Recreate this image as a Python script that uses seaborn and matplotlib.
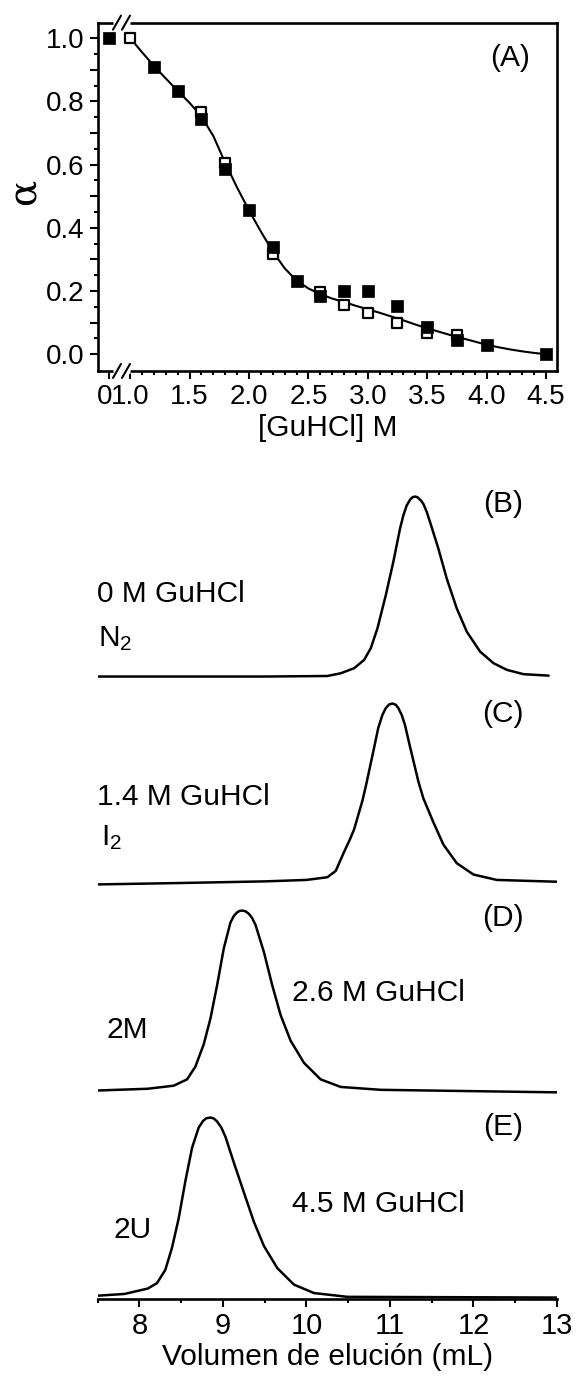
import numpy as np
import matplotlib
matplotlib.use("Agg")
import matplotlib.pyplot as plt
import matplotlib.transforms as mtransforms
import seaborn as sns

# ---------------- (A) unfolding curve ----------------
conc_filled = [0, 1.2, 1.4, 1.6, 1.8, 2.0, 2.2, 2.4, 2.6, 2.8, 3.0, 3.25, 3.5, 3.75, 4.0, 4.5]
alpha_filled = [1.0, 0.910, 0.833, 0.745, 0.585, 0.455, 0.338, 0.230, 0.185, 0.200, 0.200,
                0.153, 0.085, 0.046, 0.029, 0.0]
conc_open = [1.0, 1.6, 1.8, 2.2, 2.6, 2.8, 3.0, 3.25, 3.5, 3.75]
alpha_open = [1.0, 0.767, 0.606, 0.318, 0.198, 0.155, 0.130, 0.098, 0.066, 0.061]

fit_conc = [1.0, 1.1, 1.2, 1.3, 1.4, 1.5, 1.6, 1.7, 1.8, 1.9, 2.0, 2.1, 2.2, 2.3, 2.4, 2.5,
            2.6, 2.7, 2.8, 2.9, 3.0, 3.1, 3.2, 3.3, 3.4, 3.5, 3.6, 3.7, 3.8, 3.9, 4.0,
            4.1, 4.2, 4.3, 4.4, 4.5]
fit_alpha = [1.000, 0.955, 0.912, 0.872, 0.833, 0.795, 0.752, 0.690, 0.605, 0.527, 0.455,
             0.388, 0.325, 0.272, 0.233, 0.208, 0.190, 0.176, 0.165, 0.153, 0.142, 0.131,
             0.119, 0.107, 0.094, 0.082, 0.071, 0.060, 0.050, 0.040, 0.030, 0.022, 0.015,
             0.009, 0.004, 0.000]

x_major = [1.0, 1.5, 2.0, 2.5, 3.0, 3.5, 4.0, 4.5]
y_major = [0.0, 0.2, 0.4, 0.6, 0.8, 1.0]

# ---------------- (B)-(E) elution profiles ----------------
vol_B = [7.49, 8.5, 9.5, 10.25, 10.41, 10.57, 10.69, 10.77, 10.85, 10.95, 11.04, 11.12, 11.16,
         11.20, 11.24, 11.27, 11.30, 11.33, 11.37, 11.40, 11.44, 11.48, 11.58, 11.68, 11.80,
         11.92, 12.08, 12.24, 12.40, 12.60, 12.90]
sig_B = [0.0, 0.0, 0.0, 0.003, 0.018, 0.046, 0.092, 0.157, 0.268, 0.452, 0.637, 0.821, 0.895,
         0.950, 0.982, 0.996, 1.0, 0.996, 0.978, 0.959, 0.915, 0.858, 0.710, 0.544, 0.378,
         0.249, 0.138, 0.074, 0.037, 0.013, 0.005]

vol_C = [7.49, 8.5, 9.5, 10.0, 10.25, 10.35, 10.45, 10.52, 10.57, 10.62, 10.67, 10.72, 10.80,
         10.86, 10.91, 10.95, 10.99, 11.03, 11.07, 11.10, 11.14, 11.18, 11.24, 11.34, 11.40,
         11.52, 11.64, 11.80, 12.00, 12.28, 13.0]
sig_C = [-0.005, 0.003, 0.012, 0.020, 0.035, 0.070, 0.175, 0.245, 0.300, 0.380, 0.460, 0.560,
         0.733, 0.865, 0.937, 0.975, 0.995, 1.0, 0.993, 0.975, 0.937, 0.880, 0.760, 0.567,
         0.473, 0.340, 0.216, 0.113, 0.050, 0.020, 0.010]

vol_D = [7.49, 8.10, 8.41, 8.57, 8.67, 8.77, 8.85, 8.93, 9.01, 9.09, 9.13, 9.17, 9.20, 9.23,
         9.27, 9.31, 9.35, 9.39, 9.49, 9.59, 9.69, 9.81, 9.97, 10.17, 10.41, 10.89, 13.0]
sig_D = [0.0, 0.010, 0.027, 0.062, 0.133, 0.257, 0.400, 0.585, 0.790, 0.934, 0.970, 0.990,
         0.998, 1.0, 0.996, 0.982, 0.958, 0.920, 0.770, 0.585, 0.420, 0.277, 0.154, 0.062,
         0.020, 0.004, -0.010]

vol_E = [7.49, 7.82, 8.10, 8.21, 8.31, 8.39, 8.47, 8.55, 8.63, 8.71, 8.76, 8.80, 8.85, 8.89,
         8.93, 8.98, 9.03, 9.13, 9.25, 9.37, 9.49, 9.65, 9.85, 10.09, 10.49, 13.0]
sig_E = [0.010, 0.020, 0.050, 0.080, 0.154, 0.277, 0.440, 0.647, 0.832, 0.945, 0.980, 0.996,
         1.0, 0.995, 0.978, 0.945, 0.893, 0.750, 0.585, 0.421, 0.287, 0.164, 0.072, 0.025,
         0.004, 0.0]

vol_ticks = [8, 9, 10, 11, 12, 13]

# ---------------- style ----------------
sns.set_theme(style="white")
plt.rcParams["font.family"] = ["Liberation Sans", "DejaVu Sans"]
plt.rcParams["mathtext.default"] = "regular"
for key in ["text.color", "axes.labelcolor", "xtick.color", "ytick.color", "axes.edgecolor"]:
    plt.rcParams[key] = "black"

LABEL_FS = 21.5
TICK_FS = 20
SPINE_W = 1.9

fig = plt.figure(figsize=(5.76, 13.8), dpi=100)
fig.patch.set_facecolor("white")

axA = fig.add_axes([0.1696, 0.7312, 0.7974, 0.2524])
axB = fig.add_axes([0.1696, 0.0587, 0.7974, 0.5935])

# ---- panel A ----
ZERO_POS = 0.824  # where 0 M sits on the broken concentration axis
pos_filled = [ZERO_POS if c == 0 else c for c in conc_filled]

sns.lineplot(x=fit_conc, y=fit_alpha, ax=axA, color="black", linewidth=1.5,
             sort=False, estimator=None, zorder=2)
sns.scatterplot(x=conc_open, y=alpha_open, ax=axA, marker="s", s=52, color="white",
                edgecolor="black", linewidth=1.6, zorder=3)
sns.scatterplot(x=pos_filled, y=alpha_filled, ax=axA, marker="s", s=72, color="black",
                edgecolor="black", linewidth=0.5, zorder=4)

axA.set_xlim(0.726, 4.593)
axA.set_ylim(-0.053, 1.049)
for side in ["left", "right", "top", "bottom"]:
    axA.spines[side].set_visible(True)
    axA.spines[side].set_color("black")
    axA.spines[side].set_linewidth(SPINE_W)

axA.set_xticks([ZERO_POS] + x_major)
axA.set_xticklabels([""] + [f"{v:.1f}" for v in x_major])
axA.set_xticks([round(1.0 + 0.1 * i, 2) for i in range(36) if round(1.0 + 0.1 * i, 2) not in x_major],
               minor=True)
y_ticks = [round(0.1 * i, 1) for i in range(11)]
axA.set_yticks(y_ticks)
axA.set_yticklabels([f"{v:.1f}" if v in y_major else "" for v in y_ticks])
axA.set_yticks([round(0.05 + 0.1 * i, 2) for i in range(10)], minor=True)

axA.tick_params(axis="both", which="both", direction="out", colors="black",
                labelsize=TICK_FS, top=False, right=False, bottom=True, left=True)
axA.tick_params(axis="both", which="major", length=5.5, width=1.5, pad=4)
axA.tick_params(axis="both", which="minor", length=3.2, width=1.5)

# label of the 0 M tick, nudged left so it sits snugly before "1.0"
zero_tf = mtransforms.offset_copy(axA.get_xaxis_transform(), fig=fig, x=-3.5, y=-9.5,
                                  units="points")
axA.text(ZERO_POS, 0, "0", transform=zero_tf, fontsize=TICK_FS, ha="center", va="top",
         clip_on=False)

axA.set_xlabel("[GuHCl] M", fontsize=LABEL_FS, labelpad=3)
fig.text(24 / 576, 1 - 192 / 1380, "α", rotation=90, fontsize=28, ha="center", va="center",
         family=["DejaVu Serif"])
axA.text(4.194, 0.938, "(A)", fontsize=LABEL_FS, ha="center", va="center")

# axis-break marks on bottom and top spines
wpx, hpx = 459.3, 348.3
for yb in (0.0, 1.0):
    axA.plot([(113.5 - 97.7) / wpx, (130.5 - 97.7) / wpx], [yb, yb], transform=axA.transAxes,
             color="white", linewidth=3.5, clip_on=False, zorder=6, solid_capstyle="butt")
    for xc in (117.0, 126.0):
        x0 = (xc - 97.7 - 4) / wpx
        x1 = (xc - 97.7 + 4) / wpx
        axA.plot([x0, x1], [yb - 7 / hpx, yb + 7 / hpx], transform=axA.transAxes,
                 color="black", linewidth=1.5, clip_on=False, zorder=7)

# ---- panels B-E ----
offsets = [3.45, 2.30, 1.15, 0.0]
profiles = [(vol_B, sig_B), (vol_C, sig_C), (vol_D, sig_D), (vol_E, sig_E)]
for (v, s), off in zip(profiles, offsets):
    sns.lineplot(x=v, y=[val + off for val in s], ax=axB, color="black", linewidth=1.8,
                 sort=False, estimator=None)

axB.set_xlim(7.5, 13.0)
axB.set_ylim(-0.008, 4.542)
for side in ["left", "right", "top"]:
    axB.spines[side].set_visible(False)
axB.spines["bottom"].set_visible(True)
axB.spines["bottom"].set_color("black")
axB.spines["bottom"].set_linewidth(SPINE_W)
axB.set_yticks([])
axB.set_xticks(vol_ticks)
axB.set_xticklabels([str(v) for v in vol_ticks])
axB.set_xticks([7.5, 8.5, 9.5, 10.5, 11.5, 12.5], minor=True)
axB.tick_params(axis="x", which="both", direction="out", colors="black", labelsize=21,
                bottom=True)
axB.tick_params(axis="x", which="major", length=5.5, width=1.5, pad=4)
axB.tick_params(axis="x", which="minor", length=3.2, width=1.5)
axB.set_xlabel("Volumen de elución (mL)", fontsize=LABEL_FS, labelpad=2)
axB.set_ylabel("")

panel_x = 12.356
axB.text(panel_x, 4.406, "(B)", fontsize=LABEL_FS, ha="center", va="center")
axB.text(panel_x, 3.244, "(C)", fontsize=LABEL_FS, ha="center", va="center")
axB.text(panel_x, 2.106, "(D)", fontsize=LABEL_FS, ha="center", va="center")
axB.text(panel_x, 0.950, "(E)", fontsize=LABEL_FS, ha="center", va="center")

axB.text(7.49, 3.911, "0 M GuHCl", fontsize=LABEL_FS, ha="left", va="center")
axB.text(7.50, 3.661, "N$_2$", fontsize=LABEL_FS, ha="left", va="center")
axB.text(7.49, 2.783, "1.4 M GuHCl", fontsize=LABEL_FS, ha="left", va="center")
axB.text(7.54, 2.556, "I$_2$", fontsize=LABEL_FS, ha="left", va="center")
axB.text(9.83, 1.694, "2.6 M GuHCl", fontsize=LABEL_FS, ha="left", va="center")
axB.text(7.60, 1.489, "2M", fontsize=LABEL_FS, ha="left", va="center")
axB.text(9.83, 0.522, "4.5 M GuHCl", fontsize=LABEL_FS, ha="left", va="center")
axB.text(7.69, 0.378, "2U", fontsize=LABEL_FS, ha="left", va="center")

fig.savefig("out.png", dpi=100, facecolor="white")
